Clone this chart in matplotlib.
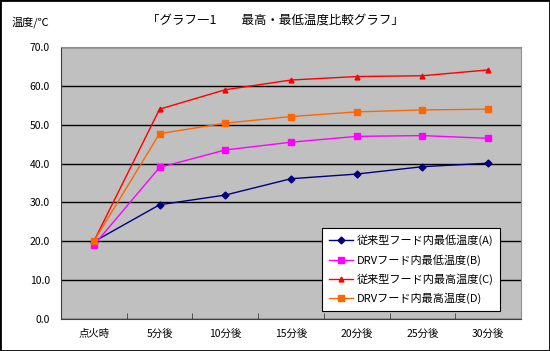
import matplotlib
matplotlib.use("Agg")
import matplotlib.pyplot as plt
from matplotlib.patches import Rectangle

plt.rcParams['font.family'] = ['Noto Sans CJK JP', 'DejaVu Sans']

categories = ["点火時", "5分後", "10分後", "15分後", "20分後", "25分後", "30分後"]
series_a = [19.9, 29.4, 31.9, 36.1, 37.3, 39.2, 40.1]   # 従来型フード内最低温度(A)
series_b = [19.0, 39.0, 43.5, 45.5, 47.0, 47.2, 46.5]   # DRVフード内最低温度(B)
series_c = [20.0, 54.0, 59.0, 61.5, 62.4, 62.6, 64.1]   # 従来型フード内最高温度(C)
series_d = [20.0, 47.7, 50.4, 52.1, 53.3, 53.8, 54.0]   # DRVフード内最高温度(D)
labels = ["従来型フード内最低温度(A)", "DRVフード内最低温度(B)",
          "従来型フード内最高温度(C)", "DRVフード内最高温度(D)"]
yticks = [0, 10, 20, 30, 40, 50, 60, 70]

fig = plt.figure(figsize=(5.5, 3.51), dpi=100)
ax = fig.add_axes([61/550, 32/351, 460/550, 272/351])
ax.set_facecolor("#C0C0C0")

x = range(len(categories))
ax.plot(x, series_a, color="#000080", marker="D", markersize=3.5, lw=1, label=labels[0])
ax.plot(x, series_b, color="#FF00FF", marker="s", markersize=5, lw=1, label=labels[1])
ax.plot(x, series_c, color="#FF0000", marker="^", markersize=3.5, lw=1, label=labels[2])
ax.plot(x, series_d, color="#FF6600", marker="s", markersize=4, lw=1, label=labels[3])

ax.set_xlim(-0.5, len(categories) - 0.5)
ax.set_ylim(0, 70)
ax.set_yticks(yticks)
ax.set_yticklabels(["%.1f" % v for v in yticks], fontsize=7.5)
ax.set_xticks(x)
ax.set_xticklabels(categories, fontsize=7.5)
ax.set_xticks([i + 0.5 for i in range(len(categories) - 1)], minor=True)
ax.tick_params(axis="x", which="major", length=0, pad=7)
ax.tick_params(axis="x", which="minor", direction="in", length=4, color="#404040")
ax.tick_params(axis="y", length=0, pad=8)
ax.yaxis.grid(True, color="black", lw=1)
ax.set_axisbelow(True)
for s in ["left", "bottom"]:
    ax.spines[s].set_color("#404040")
for s in ["top", "right"]:
    ax.spines[s].set_color("#909090")

leg = ax.legend(loc="lower right", bbox_to_anchor=(439/460, 8/272), fontsize=8,
                frameon=True, fancybox=False, edgecolor="black", framealpha=1,
                borderpad=0.6, labelspacing=0.7, handlelength=2.2, handletextpad=0.3,
                borderaxespad=0)
leg.get_frame().set_linewidth(0.8)

fig.text(0.5, 1 - 20/351, "「グラフ―1　　最高・最低温度比較グラフ」", ha="center", va="center", fontsize=9)
fig.text(12/550, 1 - 22/351, "温度/℃", ha="left", va="center", fontsize=8)

fig.patches.append(Rectangle((0, 0), 1, 1, transform=fig.transFigure, fill=False,
                             edgecolor="black", lw=2))

fig.savefig("out.png", dpi=100)
